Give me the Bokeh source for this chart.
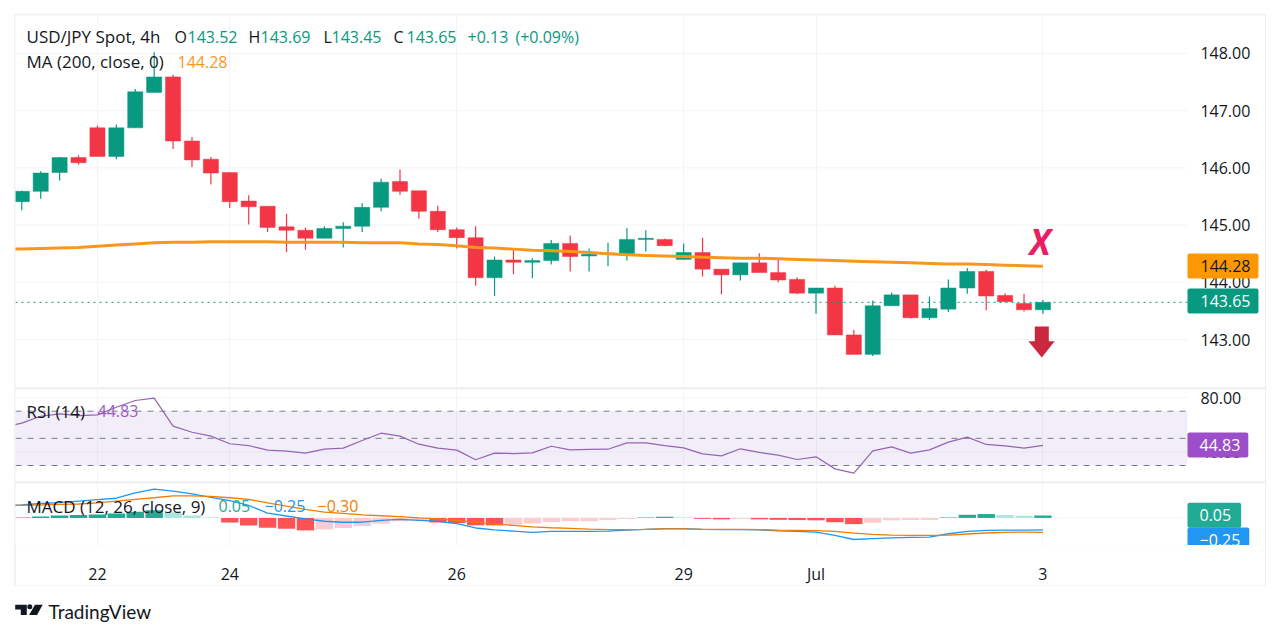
from bokeh.plotting import figure
from bokeh.layouts import column
from bokeh.models import (ColumnDataSource, Range1d, FixedTicker, NumeralTickFormatter, Label, LinearAxis, BoxAnnotation)
from bokeh.embed import file_html
from bokeh.resources import INLINE

# ---- data ----
opens = [145.41,145.59,145.92,146.18,146.70,146.20,146.70,147.32,147.59,146.47,146.15,145.92,145.42,145.33,144.97,144.91,144.77,144.94,144.98,145.31,145.76,145.60,145.24,144.92,144.78,144.08,144.39,144.35,144.38,144.68,144.46,144.49,144.50,144.75,144.75,144.40,144.52,144.23,144.13,144.34,144.17,144.05,143.81,143.90,143.08,142.74,143.59,143.78,143.38,143.53,143.90,144.19,143.77,143.63,143.52]
highs = [145.60,145.94,146.19,146.22,146.74,146.76,147.38,148.02,147.63,146.54,146.19,145.92,145.52,145.33,145.20,144.96,144.98,145.05,145.38,145.81,145.97,145.60,145.34,144.96,144.98,144.45,144.57,144.42,144.74,144.82,144.59,144.69,144.95,144.91,144.76,144.68,144.78,144.23,144.34,144.51,144.41,144.09,143.90,143.94,143.17,143.68,143.82,143.78,143.75,144.05,144.25,144.22,143.81,143.80,143.69]
lows = [145.26,145.46,145.78,146.06,146.20,146.15,146.70,147.32,146.33,146.01,145.71,145.30,145.01,144.88,144.53,144.57,144.77,144.61,144.88,145.24,145.53,145.11,144.88,144.59,143.94,143.76,144.14,144.07,144.31,144.19,144.19,144.28,144.38,144.54,144.63,144.40,144.10,143.79,144.03,144.17,144.00,143.79,143.45,143.08,142.74,142.71,143.59,143.37,143.34,143.48,143.80,143.51,143.66,143.49,143.45]
closes = [145.59,145.91,146.18,146.09,146.20,146.70,147.33,147.59,146.47,146.14,145.91,145.41,145.32,144.96,144.91,144.77,144.94,144.98,145.31,145.75,145.59,145.24,144.92,144.78,144.08,144.39,144.35,144.38,144.68,144.45,144.49,144.51,144.75,144.77,144.64,144.52,144.23,144.13,144.34,144.17,144.04,143.81,143.90,143.08,142.74,143.59,143.78,143.38,143.54,143.90,144.19,143.76,143.66,143.52,143.65]
ma_vals = [144.58,144.58,144.59,144.60,144.61,144.63,144.65,144.67,144.69,144.70,144.70,144.71,144.71,144.71,144.71,144.70,144.70,144.70,144.70,144.69,144.69,144.69,144.67,144.66,144.64,144.61,144.60,144.58,144.56,144.55,144.54,144.52,144.50,144.48,144.47,144.46,144.45,144.44,144.43,144.42,144.42,144.41,144.40,144.39,144.38,144.37,144.36,144.35,144.34,144.33,144.32,144.32,144.31,144.30,144.29,144.28]
rsi_vals = [58.2,61.2,66.3,68.0,66.8,67.3,72.9,77.9,79.6,59.0,54.5,51.6,46.0,44.7,41.3,40.6,39.1,42.0,42.8,48.4,53.8,51.6,45.7,42.8,41.3,34.2,39.1,38.8,39.3,44.2,41.5,41.8,42.0,46.7,46.7,44.7,43.0,38.6,37.1,42.3,39.6,37.6,34.4,36.4,27.5,24.4,40.8,43.7,39.1,41.5,47.2,50.9,45.5,44.5,42.8,44.83]
macd_vals = [0.26,0.27,0.30,0.32,0.35,0.38,0.41,0.52,0.60,0.56,0.50,0.43,0.36,0.26,0.10,0.04,-0.02,-0.07,-0.09,-0.09,-0.05,-0.03,-0.05,-0.07,-0.12,-0.21,-0.25,-0.275,-0.30,-0.28,-0.28,-0.28,-0.275,-0.255,-0.24,-0.225,-0.225,-0.24,-0.245,-0.245,-0.25,-0.27,-0.28,-0.295,-0.365,-0.45,-0.43,-0.415,-0.405,-0.40,-0.33,-0.28,-0.26,-0.255,-0.255,-0.25]
signal_vals = [0.26,0.26,0.27,0.28,0.29,0.315,0.35,0.385,0.42,0.46,0.46,0.45,0.42,0.385,0.315,0.245,0.18,0.12,0.095,0.065,0.045,0.025,0.0,-0.02,-0.05,-0.09,-0.13,-0.155,-0.185,-0.205,-0.22,-0.235,-0.245,-0.245,-0.24,-0.23,-0.23,-0.24,-0.24,-0.24,-0.245,-0.255,-0.26,-0.265,-0.28,-0.315,-0.345,-0.36,-0.365,-0.365,-0.36,-0.335,-0.315,-0.30,-0.295,-0.30]
hist_vals = [0.01,0.03,0.05,0.06,0.07,0.09,0.13,0.16,0.12,0.05,0.01,-0.094,-0.156,-0.205,-0.226,-0.26,-0.24,-0.21,-0.17,-0.12,-0.07,-0.05,-0.095,-0.11,-0.155,-0.156,-0.14,-0.115,-0.09,-0.07,-0.07,-0.045,-0.02,0.01,0.025,0.01,-0.02,-0.03,-0.02,-0.03,-0.04,-0.045,-0.05,-0.09,-0.13,-0.10,-0.05,-0.045,-0.04,0.01,0.065,0.08,0.06,0.045,0.05]
line_index = list(range(-1, 55))
candle_index = list(range(55))
time_ticks = [4, 11, 23, 35, 42, 54]
time_labels = ["22", "24", "26", "29", "Jul", "3"]
price_ticks = [143, 144, 145, 146, 147, 148]
rsi_ticks = [40, 80]
macd_ticks = [0]
rsi_levels = [70, 50, 30]
arrow_x = [53.57, 54.31, 54.31, 54.62, 53.94, 53.23, 53.57]
arrow_y = [143.227, 143.227, 142.97, 142.97, 142.685, 142.97, 142.97]

UP, DOWN = "#089981", "#F23645"
TEXT = "#131722"
GRID = "#F3F4F7"
FONT = "Open Sans"
X_LEFT, X_AXIS, X_RIGHT = -0.333, 61.64, 65.77   # plot edge, price-scale edge, panel edge
X_RANGE = Range1d(X_LEFT, X_RIGHT)


def make_fig(height, yr, ticks):
    f = figure(width=1250, height=height, x_range=X_RANGE, y_range=Range1d(*yr),
               output_backend="svg", toolbar_location=None, x_axis_location=None, y_axis_location=None,
               min_border=0, outline_line_color=None, background_fill_color="white", border_fill_color="white")
    f.xgrid.ticker = FixedTicker(ticks=time_ticks)
    f.xgrid.grid_line_color = GRID
    f.ygrid.visible = False
    f.segment([X_LEFT] * len(ticks), ticks, [X_AXIS] * len(ticks), ticks, line_color=GRID, line_width=1, level="underlay")
    ax = LinearAxis(fixed_location=X_AXIS, ticker=FixedTicker(ticks=ticks), formatter=NumeralTickFormatter(format="0.00"),
                    axis_line_color=None, major_tick_line_color=None, minor_tick_line_color=None,
                    major_label_standoff=7, major_label_text_font=FONT, major_label_text_font_size="16px",
                    major_label_text_color=TEXT)
    f.add_layout(ax, "right")
    return f


def lab(f, fbottom, text, x, y, color=TEXT, size="16px", **kw):
    """x, y are picture pixels of the label anchor; converted to frame-relative screen units."""
    f.add_layout(Label(x=x - 15, y=fbottom - y, x_units="screen", y_units="screen", text=text,
                       text_color=color, text_font=FONT, text_font_size=size,
                       text_baseline="middle", text_align="left", **kw))


def tag(f, fbottom, text, x, y, bg, color, pad_l, pad_r):
    lab(f, fbottom, text, x, y, color=color, background_fill_color=bg,
        padding=(pad_l, pad_r, 6, 7), border_radius=2, level="overlay")


# ---- price pane ----
price = make_fig(372, (142.161, 148.664), price_ticks)
src = ColumnDataSource(dict(x=candle_index, o=opens, h=highs, l=lows, c=closes,
                            color=[UP if c >= o else DOWN for o, c in zip(opens, closes)]))
price.segment("x", "h", "x", "l", source=src, color="color", line_width=1.2)
price.vbar("x", 0.8, "o", "c", source=src, fill_color="color", line_color="color", line_width=0.5)
price.line(line_index, ma_vals, line_color="#F7981D", line_width=3)
price.segment([X_LEFT], [closes[-1]], [X_AXIS], [closes[-1]], line_color=UP, line_dash="dotted", line_width=1)
price.patch(arrow_x, arrow_y, fill_color="#C9283E", line_color=None)
pb = 387
lab(price, pb, "USD/JPY Spot, 4h", 26, 36, size="17px")
for t, v, xt, xv in [("O", opens[-1], 174, 187), ("H", highs[-1], 248, 260), ("L", lows[-1], 323, 331), ("C", closes[-1], 393, 406)]:
    lab(price, pb, t, xt, 36)
    lab(price, pb, f"{v:.2f}", xv, 36, color=UP)
lab(price, pb, "+0.13", 467, 36, color=UP)
lab(price, pb, "(+0.09%)", 515, 36, color=UP)
lab(price, pb, "MA (200, close, 0)", 26, 61, size="17px")
lab(price, pb, f"{ma_vals[-1]:.2f}", 177, 61, color="#F7981D")
lab(price, pb, "X", 1029, 241, color="#E91E63", size="35px", text_font_style="bold italic")
tag(price, pb, f"{ma_vals[-1]:.2f}", 1187, 265.5, "#FF9800", TEXT, 13, 8)
tag(price, pb, f"{closes[-1]:.2f}", 1187, 300.5, UP, "white", 13, 8)

# ---- RSI pane ----
rsi = make_fig(92, (18.2, 85.99), rsi_ticks)
rsi.add_layout(BoxAnnotation(left=X_LEFT, right=X_AXIS, bottom=30, top=70, fill_color="#7E57C2", fill_alpha=0.1,
                             line_color=None, level="underlay"))
rsi.segment([X_LEFT] * 3, rsi_levels, [X_AXIS] * 3, rsi_levels, line_color="#787B86", line_dash="dashed", line_width=1)
rsi.line(line_index, rsi_vals, line_color="#9563B8", line_width=1.2)
rb = 481
lab(rsi, rb, "RSI (14)", 26, 410.5, size="17px")
lab(rsi, rb, f"{rsi_vals[-1]:.2f}", 97, 410.5, color="#9C5BC6")
tag(rsi, rb, f"{rsi_vals[-1]:.2f}", 1187, 444.5, "#9C4FC8", "white", 12, 8)

# ---- MACD pane ----
macd = make_fig(62, (-0.575, 0.717), macd_ticks)


def hist_color(i):
    v = hist_vals[i]
    p = hist_vals[i - 1] if i else 0
    if v >= 0:
        return "#22AB94" if v > p else "#ACE5DC"
    return "#FF5252" if v < p else "#FCCBCD"


macd.vbar(candle_index, 0.92, 0, hist_vals, fill_color=[hist_color(i) for i in candle_index], line_color=None)
macd.line(line_index, macd_vals, line_color="#2196F3", line_width=1.3)
macd.line(line_index, signal_vals, line_color="#F57C00", line_width=1.3)
mb = 545
lab(macd, mb, "MACD (12, 26, close, 9)", 26, 505.5, size="17px")
lab(macd, mb, "0.05", 218, 505.5, color="#22AB94")
lab(macd, mb, "\u22120.25", 264, 505.5, color="#2196F3")
lab(macd, mb, "\u22120.30", 317, 505.5, color="#F57C00")
tag(macd, mb, "\u22120.25", 1187, 539.5, "#2196F3", "white", 12, 9)
tag(macd, mb, "0.05", 1187, 514.8, "#22AB94", "white", 12, 10)

# ---- time axis strip ----
axis_fig = figure(width=1250, height=40, x_range=X_RANGE, y_range=Range1d(0, 1),
                  output_backend="svg", toolbar_location=None,
                  min_border_left=0, min_border_right=0, min_border_top=0, min_border_bottom=38,
                  outline_line_color=None, border_fill_color="white")
axis_fig.yaxis.visible = False
axis_fig.grid.visible = False
xa = axis_fig.xaxis[0]
xa.ticker = FixedTicker(ticks=time_ticks)
xa.major_label_overrides = dict(zip(time_ticks, time_labels))
xa.axis_line_color = None
xa.major_tick_line_color = None
xa.minor_tick_line_color = None
xa.major_label_standoff = 11
xa.major_label_text_font = FONT
xa.major_label_text_font_size = "16px"
xa.major_label_text_color = TEXT

price.margin = (1, 1, 0, 1)
rsi.margin = (2, 1, 0, 1)
macd.margin = (2, 1, 0, 1)
axis_fig.margin = (0, 1, 1, 1)
panel = column(price, rsi, macd, axis_fig, spacing=0, margin=(14, 0, 0, 14),
               styles={"background-color": "#F0F0F2"})

# ---- footer ----
footer = figure(width=1264, height=36, x_range=Range1d(0, 1264), y_range=Range1d(626, 590),
                output_backend="svg", toolbar_location=None, x_axis_type=None, y_axis_type=None,
                min_border=0, outline_line_color=None, margin=(4, 0, 0, 0))
footer.grid.visible = False
footer.patch([14.7, 26.3, 26.3, 20.3, 20.3, 14.7], [604.3, 604.3, 614.5, 614.5, 609, 609], fill_color=TEXT, line_color=None)
footer.scatter([29.3], [606.3], size=5, fill_color=TEXT, line_color=None)
footer.patch([34.5, 42.2, 36.5, 28.6], [604.3, 604.3, 614.5, 614.5], fill_color=TEXT, line_color=None)
footer.add_layout(Label(x=48, y=611, text="TradingView", text_color=TEXT, text_font="Lato",
                        text_font_size="19px", text_baseline="middle", text_align="left"))

root = column(panel, footer, spacing=0)
open("out.html", "w").write(file_html(root, INLINE))
